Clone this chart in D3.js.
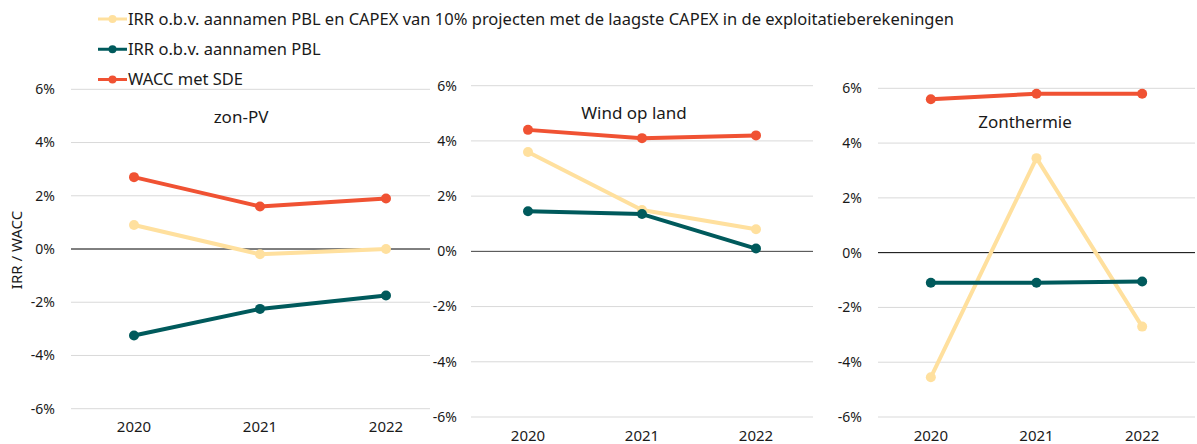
<!DOCTYPE html>
<html>
<head>
<meta charset="utf-8">
<script src="https://cdn.jsdelivr.net/npm/d3@7"></script>
<style>
  body { margin: 0; background: #fff; }
  text { font-family: "Noto Sans", sans-serif; fill: #1a1a1a; }
</style>
</head>
<body>
<div id="svg-container"></div>
<script>

// Data (percent)
const years = ["2020", "2021", "2022"];
const panelTitles = ["zon-PV", "Wind op land", "Zonthermie"];
const yTicks = [-6, -4, -2, 0, 2, 4, 6];

const seriesNames = [
  "IRR o.b.v. aannamen PBL en CAPEX van 10% projecten met de laagste CAPEX in de exploitatieberekeningen",
  "IRR o.b.v. aannamen PBL",
  "WACC met SDE"
];

// one row per panel: zon-PV, Wind op land, Zonthermie
const irrCapex = [[0.9, -0.2, 0.0], [3.6, 1.5, 0.8], [-4.55, 3.45, -2.7]];
const irrPbl = [[-3.25, -2.25, -1.75], [1.45, 1.35, 0.1], [-1.1, -1.1, -1.05]];
const waccSde = [[2.7, 1.6, 1.9], [4.4, 4.1, 4.2], [5.6, 5.8, 5.8]];

const COLORS = ["#ffe09e", "#005a5c", "#f05233"];
const GRID_COLOR = "#d9d9d9";

var svg = d3.select("#svg-container")
  .append("svg")
  .attr("width", 1197)
  .attr("height", 444);

// plot boxes of the three small charts
var layouts = [
  { x0: 71, x1: 449, gridEnd: 430, yTop: 89.3, yBot: 408.7, labelX: 55, titleX: 241, titleY: 117, yearY: 427, zero: "#000" },
  { x0: 471, x1: 813, gridEnd: 813, yTop: 85.7, yBot: 417, labelX: 457, titleX: 634, titleY: 113, yearY: 435.5, zero: "#404040" },
  { x0: 878, x1: 1195, gridEnd: 1195, yTop: 88.3, yBot: 417, labelX: 862, titleX: 1025, titleY: 122, yearY: 435.5, zero: "#000" }
];

function drawPanel(p) {

  var L = layouts[p];
  var g = svg.append("g");

  var x = d3.scalePoint().domain(years).range([L.x0, L.x1]).padding(0.5);
  var y = d3.scaleLinear().domain([-6, 6]).range([L.yBot, L.yTop]);

  // gridlines
  g.selectAll("line.grid")
    .data(yTicks.filter(function(d) { return d !== 0; }))
    .enter().append("line")
    .attr("class", "grid")
    .attr("x1", L.x0)
    .attr("x2", L.gridEnd)
    .attr("y1", function(d) { return y(d); })
    .attr("y2", function(d) { return y(d); })
    .style("stroke", GRID_COLOR)
    .style("stroke-width", 1);

  g.append("line")
    .attr("x1", L.x0)
    .attr("x2", L.gridEnd)
    .attr("y1", y(0))
    .attr("y2", y(0))
    .style("stroke", L.zero)
    .style("stroke-width", 1);

  // tick labels
  g.selectAll("text.ytick")
    .data(yTicks)
    .enter().append("text")
    .attr("class", "ytick")
    .attr("x", L.labelX)
    .attr("y", function(d) { return y(d); })
    .attr("dy", "0.35em")
    .attr("text-anchor", "end")
    .attr("font-size", 14)
    .text(function(d) { return d + "%"; });

  g.selectAll("text.xtick")
    .data(years)
    .enter().append("text")
    .attr("class", "xtick")
    .attr("x", function(d) { return x(d); })
    .attr("y", L.yearY)
    .attr("dy", "0.35em")
    .attr("text-anchor", "middle")
    .attr("font-size", 15)
    .text(function(d) { return d; });

  g.append("text")
    .attr("x", L.titleX)
    .attr("y", L.titleY)
    .attr("dy", "0.35em")
    .attr("text-anchor", "middle")
    .attr("font-size", 17)
    .text(panelTitles[p]);

  var line = d3.line()
    .x(function(d, i) { return x(years[i]); })
    .y(function(d) { return y(d); });

  [irrCapex, irrPbl, waccSde].forEach(function(series, s) {
    var values = series[p];
    g.append("path")
      .attr("d", line(values))
      .attr("fill", "none")
      .attr("stroke", COLORS[s])
      .attr("stroke-width", 4)
      .attr("stroke-linejoin", "round");
    g.selectAll("circle.s" + s)
      .data(values)
      .enter().append("circle")
      .attr("class", "s" + s)
      .attr("cx", function(d, i) { return x(years[i]); })
      .attr("cy", function(d) { return y(d); })
      .attr("r", 5)
      .attr("fill", COLORS[s]);
  });

}

for (var p = 0; p < layouts.length; p++) {
  drawPanel(p);
}

// y axis title
svg.append("text")
  .attr("transform", "translate(17, 250) rotate(-90)")
  .attr("dy", "0.35em")
  .attr("text-anchor", "middle")
  .attr("font-size", 15)
  .text("IRR / WACC");

// legend
var legendY = d3.scalePoint().domain(d3.range(seriesNames.length)).range([19, 79.5]);

var legend = svg.append("g")
  .selectAll("g")
  .data(seriesNames)
  .enter().append("g")
  .attr("transform", function(d, i) { return "translate(98," + legendY(i) + ")"; });

legend.append("line")
  .attr("x1", 0)
  .attr("x2", 29)
  .style("stroke", function(d, i) { return COLORS[i]; })
  .style("stroke-width", 3);

legend.append("circle")
  .attr("cx", 14.5)
  .attr("r", 4)
  .attr("fill", function(d, i) { return COLORS[i]; });

legend.append("text")
  .attr("x", 30)
  .attr("dy", "0.35em")
  .attr("font-size", 16.5)
  .text(function(d) { return d; });

</script>
</body>
</html>
